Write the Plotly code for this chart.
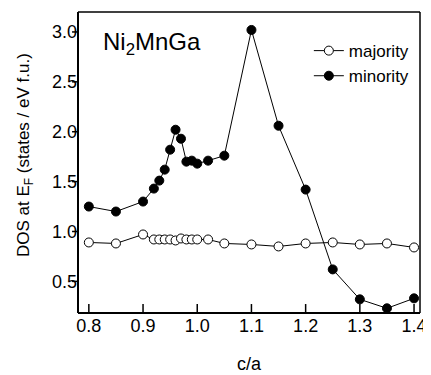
import plotly.graph_objects as go

ca = [0.80, 0.85, 0.90, 0.92, 0.93, 0.94, 0.95, 0.96, 0.97, 0.98, 0.99, 1.00,
      1.02, 1.05, 1.10, 1.15, 1.20, 1.25, 1.30, 1.35, 1.40]
majority = [0.89, 0.88, 0.97, 0.92, 0.92, 0.92, 0.92, 0.91, 0.93, 0.92, 0.92, 0.92,
            0.92, 0.88, 0.87, 0.85, 0.88, 0.89, 0.87, 0.88, 0.84]
minority = [1.25, 1.20, 1.30, 1.43, 1.51, 1.62, 1.82, 2.02, 1.93, 1.70, 1.71, 1.68,
            1.71, 1.76, 3.02, 2.06, 1.42, 0.62, 0.32, 0.23, 0.33]
xticks = [0.8, 0.9, 1.0, 1.1, 1.2, 1.3, 1.4]
yticks = [0.5, 1.0, 1.5, 2.0, 2.5, 3.0]
xrange_ = [0.78, 1.411]
yrange_ = [0.183, 3.2]

FONT = "Liberation Sans, Arial, sans-serif"

# page body has an 8px margin, so the figure is sized to fit inside the window
W, H = 423, 367
M = dict(l=70, r=8, t=4, b=61)
PW = W - M["l"] - M["r"]
PH = H - M["t"] - M["b"]

fig = go.Figure()
fig.add_trace(go.Scatter(
    x=ca, y=majority, mode="lines+markers", name="majority",
    line=dict(color="black", width=1),
    marker=dict(symbol="circle", size=9, color="white", line=dict(color="black", width=1)),
))
fig.add_trace(go.Scatter(
    x=ca, y=minority, mode="lines+markers", name="minority",
    line=dict(color="black", width=1),
    marker=dict(symbol="circle", size=9, color="black", line=dict(color="black", width=1)),
))

# frame as paper-referenced line shapes
fig.add_shape(type="line", xref="paper", yref="paper", x0=0, x1=0, y0=0, y1=1,
              line=dict(color="black", width=2), layer="above")
fig.add_shape(type="line", xref="paper", yref="paper", x0=0, x1=1, y0=0, y1=0,
              line=dict(color="black", width=2), layer="above")
fig.add_shape(type="line", xref="paper", yref="paper", x0=0, x1=1, y0=1, y1=1,
              line=dict(color="black", width=1.5), layer="above")
fig.add_shape(type="line", xref="paper", yref="paper", x0=1, x1=1, y0=0, y1=1,
              line=dict(color="black", width=1.5), layer="above")

# x ticks: inside, pointing up
for v in xticks:
    fig.add_shape(type="line", xref="x", yref="paper", x0=v, x1=v, y0=0, y1=9 / PH,
                  line=dict(color="black", width=1.5), layer="above")
# y ticks: outside, pointing left
for v in yticks:
    fig.add_shape(type="line", xref="paper", yref="y", x0=0, x1=-6 / PW, y0=v, y1=v,
                  line=dict(color="black", width=1.5), layer="above")

fig.add_annotation(
    text="Ni<sub>2</sub>MnGa", xref="paper", yref="paper", x=0.066, y=0.953,
    xanchor="left", yanchor="top", showarrow=False,
    font=dict(family=FONT, size=24, color="black"),
)
fig.add_annotation(
    text="DOS at E<sub>F</sub> (states / eV f.u.)", xref="paper", yref="paper",
    x=-0.155, y=0.525, xanchor="center", yanchor="middle", textangle=-90,
    showarrow=False, font=dict(family=FONT, size=17, color="black"),
)

fig.update_layout(
    width=W, height=H,
    margin=M,
    paper_bgcolor="white", plot_bgcolor="white",
    font=dict(family=FONT, size=17, color="black"),
    showlegend=True,
    legend=dict(x=0.675, y=0.93, xanchor="left", yanchor="top",
                bgcolor="rgba(255,255,255,0)", font=dict(size=17), tracegroupgap=0,
                itemwidth=30),
)
fig.update_xaxes(
    range=xrange_, tickvals=xticks, ticktext=[f"{v:.1f}" for v in xticks],
    ticks="", showline=False, showgrid=False, zeroline=False,
    ticklabeloverflow="allow",
    title=dict(text="c/a", font=dict(size=18), standoff=22),
    tickfont=dict(size=18),
)
fig.update_yaxes(
    range=yrange_, tickvals=yticks, ticktext=[f"{v:.1f}" for v in yticks],
    ticks="", showline=False, showgrid=False, zeroline=False,
    tickfont=dict(size=18),
)

fig.write_html("out.html")
